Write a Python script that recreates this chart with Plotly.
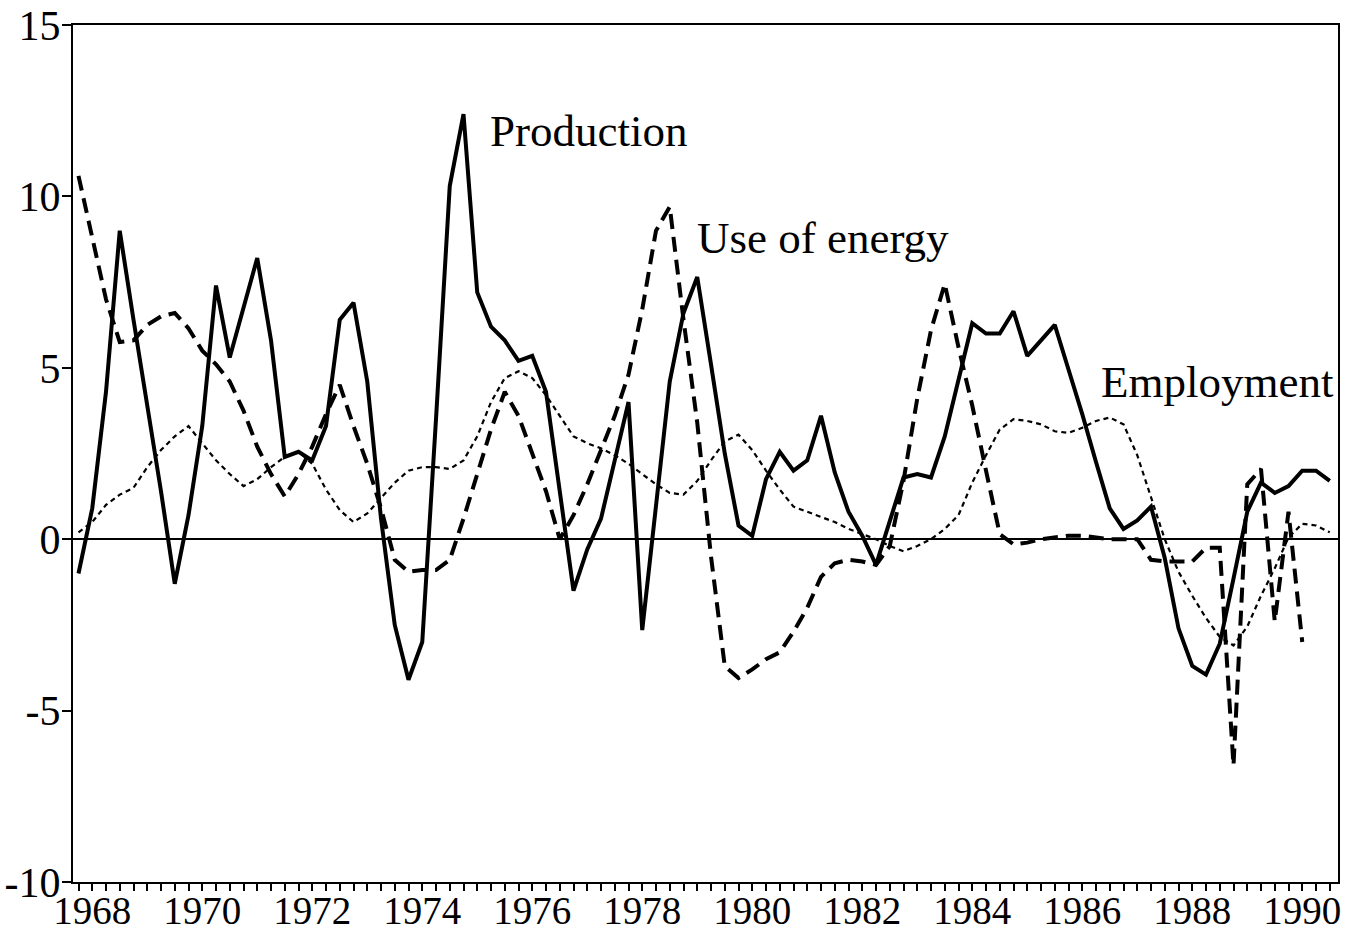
import plotly.graph_objects as go

# Quarterly positions (year units); label "1968" sits at 1968.0
quarters = [1967.75 + 0.25 * k for k in range(92)]

production = [
    -1.0, 0.9, 4.3, 9.0, 6.4, 3.9, 1.4, -1.3, 0.7, 3.3,
    7.4, 5.3, 6.8, 8.2, 5.8, 2.4, 2.55, 2.3, 3.3, 6.4,
    6.9, 4.6, 0.6, -2.5, -4.1, -3.0, 3.5, 10.3, 12.4, 7.2,
    6.2, 5.8, 5.2, 5.35, 4.3, 1.4, -1.5, -0.3, 0.6, 2.3,
    4.0, -2.65, 1.0, 4.6, 6.6, 7.65, 5.1, 2.5, 0.4, 0.1,
    1.75, 2.55, 2.0, 2.3, 3.6, 1.95, 0.8, 0.1, -0.75, 0.5,
    1.8, 1.9, 1.8, 3.0, 4.6, 6.3, 6.0, 6.0, 6.65, 5.35,
    5.8, 6.25, 4.95, 3.65, 2.25, 0.9, 0.3, 0.55, 0.95, -0.55,
    -2.6, -3.7, -3.95, -3.05, -1.15, 0.8, 1.65, 1.35, 1.55, 2.0,
    2.0, 1.7,
]

energy = [
    10.6, 8.8, 7.0, 5.75, 5.8, 6.25, 6.5, 6.6, 6.15, 5.5,
    5.1, 4.6, 3.75, 2.7, 1.9, 1.25, 1.9, 2.7, 3.65, 4.5,
    3.3, 2.2, 0.9, -0.6, -0.95, -0.9, -0.9, -0.6, 0.6, 1.9,
    3.2, 4.3, 3.6, 2.5, 1.4, 0.0, 0.7, 1.6, 2.6, 3.6,
    4.8, 6.7, 9.0, 9.7, 6.4, 3.4, -0.5, -3.7, -4.05, -3.8,
    -3.5, -3.3, -2.7, -2.0, -1.1, -0.7, -0.6, -0.65, -0.75, -0.2,
    1.7, 4.1, 6.1, 7.45, 5.6, 3.9, 2.0, 0.15, -0.15, -0.1,
    0.0, 0.05, 0.1, 0.1, 0.05, 0.0, 0.0, 0.0, -0.6, -0.65,
    -0.65, -0.65, -0.25, -0.25, -6.6, 1.6, 2.05, -2.4, 0.8, -3.0,
]

employment = [
    0.2, 0.5, 1.0, 1.3, 1.5, 2.1, 2.6, 3.0, 3.3, 2.8,
    2.3, 1.9, 1.55, 1.75, 2.1, 2.4, 2.55, 2.2, 1.45, 0.85,
    0.5, 0.75, 1.2, 1.65, 2.0, 2.1, 2.1, 2.05, 2.3, 3.0,
    4.0, 4.7, 4.9, 4.7, 4.2, 3.6, 3.0, 2.8, 2.65, 2.45,
    2.2, 1.9, 1.6, 1.35, 1.3, 1.7, 2.3, 2.85, 3.05, 2.6,
    2.0, 1.45, 0.95, 0.8, 0.65, 0.5, 0.3, 0.15, 0.0, -0.2,
    -0.35, -0.2, 0.0, 0.3, 0.7, 1.65, 2.45, 3.2, 3.5, 3.45,
    3.35, 3.15, 3.1, 3.25, 3.45, 3.55, 3.35, 2.45, 1.25, 0.0,
    -0.95, -1.65, -2.3, -2.85, -3.1, -2.55, -1.65, -0.85, 0.05, 0.45,
    0.4, 0.2,
]

year_labels = ["1968", "1970", "1972", "1974", "1976", "1978",
               "1980", "1982", "1984", "1986", "1988", "1990"]
y_ticks = [-10, -5, 0, 5, 10, 15]
y_labels = ["-10", "-5", "0", "5", "10", "15"]

FONT = "Liberation Serif, Times New Roman, serif"

# tick text: year label at each labelled year, blank elsewhere
lab_map = {float(s): s for s in year_labels}
ticktext = [lab_map.get(q, "") for q in quarters]

fig = go.Figure()
fig.add_trace(go.Scatter(x=quarters[:len(employment)], y=employment, mode="lines",
                         line=dict(color="black", width=2.2, dash="5px,4px"),
                         name="Employment"))
fig.add_trace(go.Scatter(x=quarters[:len(energy)], y=energy, mode="lines",
                         line=dict(color="black", width=4, dash="15px,8px"),
                         name="Use of energy"))
fig.add_trace(go.Scatter(x=quarters[:len(production)], y=production, mode="lines",
                         line=dict(color="black", width=4),
                         name="Production"))

ann_font = dict(family=FONT, size=45, color="black")
fig.add_annotation(x=1975.2, y=11.9, text="Production", showarrow=False,
                   xanchor="left", yanchor="middle", font=ann_font)
fig.add_annotation(x=1978.96, y=8.8, text="Use of energy", showarrow=False,
                   xanchor="left", yanchor="middle", font=ann_font)
fig.add_annotation(x=1986.3, y=4.6, text="Employment", showarrow=False,
                   xanchor="left", yanchor="middle", font=ann_font)

fig.update_layout(
    width=1356, height=933,
    margin=dict(l=73, r=18, t=25, b=51),
    paper_bgcolor="white", plot_bgcolor="white",
    showlegend=False,
    font=dict(family=FONT, color="black", size=36),
)
fig.update_xaxes(
    range=[1967.65, 1990.65],
    tickvals=quarters, ticktext=ticktext,
    ticks="outside", ticklen=7, tickwidth=2, tickcolor="black",
    showline=True, linewidth=2, linecolor="black", mirror=True,
    showgrid=False, zeroline=False, automargin=False,
    tickfont=dict(family=FONT, size=39, color="black"),
    ticklabelstandoff=-14, ticklabeloverflow="allow",
    tickangle=0,
)
fig.update_yaxes(
    range=[-10, 15],
    tickvals=y_ticks, ticktext=y_labels,
    ticks="outside", ticklen=9, tickwidth=2, tickcolor="black",
    showline=True, linewidth=2, linecolor="black", mirror=True,
    showgrid=False, automargin=False,
    zeroline=True, zerolinecolor="black", zerolinewidth=1.5,
    tickfont=dict(family=FONT, size=42, color="black"),
    ticklabelstandoff=-7, ticklabeloverflow="allow",
)

# remove the page's default 8px body margin so the figure fills the window
fig.write_html("out.html",
               config={"displayModeBar": False},
               post_script="document.body.style.margin='0';document.body.style.overflow='hidden';")
